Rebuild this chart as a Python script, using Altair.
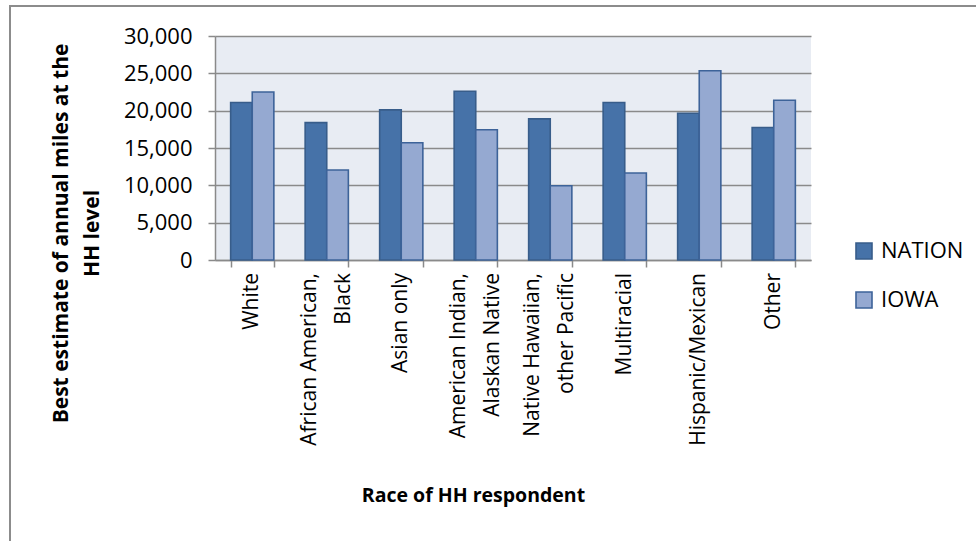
import altair as alt
import pandas as pd

# Annual household miles by race of respondent, nation vs. Iowa
races = [
    "White",
    "African American,|Black",
    "Asian only",
    "American Indian,|Alaskan Native",
    "Native Hawaiian,|other Pacific",
    "Multiracial",
    "Hispanic/Mexican",
    "Other",
]
nation = [21100, 18400, 20100, 22600, 18900, 21100, 19650, 17750]
iowa = [22500, 12050, 15700, 17450, 9950, 11650, 25350, 21400]
series = ["NATION", "IOWA"]
y_ticks = [0, 5000, 10000, 15000, 20000, 25000, 30000]

rows = []
for r, n, i in zip(races, nation, iowa):
    rows.append({"race": r, "series": "NATION", "miles": n})
    rows.append({"race": r, "series": "IOWA", "miles": i})
df = pd.DataFrame(rows)

# one row per printed line of each category label
label_rows = []
for r in races:
    parts = r.split("|")
    if len(parts) == 1:
        label_rows.append({"race": r, "text": parts[0], "pos": "single"})
    else:
        label_rows.append({"race": r, "text": parts[0], "pos": "first"})
        label_rows.append({"race": r, "text": parts[1], "pos": "second"})
labels_df = pd.DataFrame(label_rows)

FONT = "Open Sans"
fills = ["#4672a8", "#95a9d1"]
strokes = ["#385d8a", "#3d6399"]
GRID = "#8a8a8a"
LINE_H = 34

x_axis = alt.Axis(
    title="Race of HH respondent",
    titleFont=FONT,
    titleFontSize=19.5,
    titleFontWeight="bold",
    titleColor="#000000",
    titleX=258,
    titleY=235,
    titleBaseline="middle",
    labels=False,
    tickBand="extent",
    tickSize=7,
    tickColor=GRID,
    tickWidth=1.5,
    domainColor=GRID,
    domainWidth=1.5,
    grid=False,
)
x_scale = alt.Scale(paddingInner=0.42, paddingOuter=0.21)

bars = alt.Chart(df).mark_bar(strokeWidth=1.6).encode(
    x=alt.X("race:N", sort=races, scale=x_scale, axis=x_axis),
    xOffset=alt.XOffset("series:N", sort=series),
    y=alt.Y(
        "miles:Q",
        scale=alt.Scale(domain=[0, 30000], nice=False),
        axis=alt.Axis(
            title=["Best estimate of annual miles at the", "HH level"],
            titleFont=FONT,
            titleFontSize=21,
            titleFontWeight="bold",
            titleColor="#000000",
            titleAngle=-90,
            titleX=-165,
            titleY=197,
            titleAlign="center",
            titleBaseline="top",
            titleLineHeight=31,
            values=y_ticks,
            format=",.0f",
            labelFont=FONT,
            labelFontSize=22,
            labelColor="#000000",
            labelPadding=16,
            tickSize=7,
            tickColor=GRID,
            tickWidth=1.5,
            domainColor=GRID,
            domainWidth=1.5,
            gridColor=GRID,
            gridWidth=1.5,
        ),
    ),
    fill=alt.Fill(
        "series:N",
        sort=series,
        scale=alt.Scale(domain=series, range=fills),
        legend=alt.Legend(
            title=None,
            orient="none",
            legendX=638,
            legendY=204,
            symbolType="square",
            symbolSize=256,
            symbolStrokeWidth=1.6,
            labelFont=FONT,
            labelFontSize=22,
            labelColor="#000000",
            rowPadding=25,
            labelOffset=6,
        ),
    ),
    stroke=alt.Stroke(
        "series:N",
        sort=series,
        scale=alt.Scale(domain=series, range=strokes),
    ),
)


# rotated category labels below the axis; two-line labels sit centred on the band
def label_layer(pos, shift):
    return (
        alt.Chart(labels_df)
        .transform_filter(alt.datum.pos == pos)
        .mark_text(
            angle=270,
            align="right",
            baseline="middle",
            font=FONT,
            fontSize=21,
            color="#000000",
            dy=shift,
        )
        .encode(
            x=alt.X("race:N", sort=races, scale=x_scale, axis=x_axis),
            y=alt.value(237),
            text="text:N",
        )
    )


label_single = label_layer("single", 0)
label_first = label_layer("first", -LINE_H / 2)
label_second = label_layer("second", LINE_H / 2)

# outer chart frame
frame = alt.Chart(pd.DataFrame({"f": [0]})).mark_rect(
    fill=None, stroke="#8c8c8c", strokeWidth=2
).encode(
    x=alt.value(-205),
    x2=alt.value(800),
    y=alt.value(-30),
    y2=alt.value(520),
)

chart = (
    alt.layer(frame, bars, label_single, label_first, label_second)
    .properties(
        width=596,
        height=224,
        autosize=alt.AutoSizeParams(type="none"),
        padding={"left": 215, "top": 36, "right": 165, "bottom": 281},
        background="#ffffff",
    )
    .configure_view(fill="#e8ecf3", stroke=None)
)

chart.save("out.html", embed_options={"renderer": "svg", "actions": False})
